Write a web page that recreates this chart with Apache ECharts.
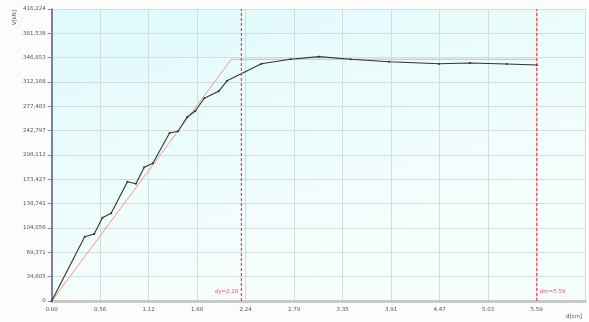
<!DOCTYPE html>
<html><head><meta charset="utf-8">
<script src="https://cdn.jsdelivr.net/npm/echarts@6/dist/echarts.min.js"></script>
<style>html,body{margin:0;padding:0;background:#fff}#c{width:589px;height:322px}</style>
</head><body><div id="c"></div>
<script>
// Capacity curve (black)
const curveX = [0, 0.38, 0.49, 0.584, 0.685, 0.873, 0.970, 1.066, 1.166, 1.358, 1.455, 1.559, 1.654, 1.758, 1.923, 2.020, 2.416, 2.751, 3.078, 3.444, 3.888, 4.463, 4.820, 5.243, 5.59];
const curveV = [0, 91700, 95500, 118750, 125000, 170100, 167200, 190600, 196300, 239500, 241900, 261900, 270900, 289000, 298900, 313900, 338100, 344600, 348300, 344600, 341000, 338100, 339300, 337900, 336400];
// Bilinear idealisation (orange)
const biX = [0, 2.07, 5.59];
const biV = [0, 344600, 344600];
// Marker lines
const markerX = [2.185, 5.59];
const markerText = ['dy=2.18', 'dm=5.59'];
// Tick labels
const xTickLabels = ['0.00','0.56','1.12','1.68','2.24','2.79','3.35','3.91','4.47','5.03','5.59'];
const yTickLabels = ['0','34,685','69,371','104,056','138,741','173,427','208,112','242,797','277,483','312,168','346,853','381,538','416,224'];

const xInt = 0.5588, yInt = 416224/12;
const yMax = yInt*12;
const chart = echarts.init(document.getElementById('c'));
const lab = {color:'#555', fontSize:5.5, fontFamily:'DejaVu Sans'};
const markerSeries = markerX.map(x=>({type:'line', z:6, symbol:'none', silent:true,
  data:[[x,0],[x,yMax]], lineStyle:{color:'#ff1a1a', type:[3,2], width:1}}));
chart.setOption({
  animation:false,
  backgroundColor:'#fcfcfc',
  grid:{left:51.7, top:9, right:3.8, bottom:21, show:true, borderWidth:0,
    backgroundColor:{type:'linear',x:0,y:0,x2:0.15,y2:1,colorStops:[{offset:0,color:'#e0fbfb'},{offset:0.6,color:'#ecfcfc'},{offset:1,color:'#f6fdfd'}]}},
  xAxis:{type:'value', min:0, max:xInt*11, interval:xInt,
    axisLine:{show:true, onZero:false, lineStyle:{color:'#c8c8c8', width:3}},
    axisTick:{show:false},
    splitLine:{show:true, lineStyle:{color:'#d4dcdc', width:1}},
    axisLabel:Object.assign({margin:6, showMaxLabel:false, formatter:v=>{const i=Math.round(v/xInt);return xTickLabels[i]||'';}}, lab)},
  yAxis:{type:'value', min:0, max:yMax, interval:yInt,
    axisLine:{show:true, lineStyle:{color:'#5a5aa8', width:1.5}},
    axisTick:{show:true, length:4, lineStyle:{color:'#888'}},
    splitLine:{show:true, lineStyle:{color:'#d4dcdc', width:1}},
    axisLabel:Object.assign({margin:6, formatter:v=>{const i=Math.round(v/yInt);return yTickLabels[i]||'';}}, lab)},
  graphic:[
    {type:'text', left:12, top:10, rotation:Math.PI/2, style:{text:'V[kN]', fill:'#555', font:'5.5px DejaVu Sans'}},
    {type:'text', left:566, top:314, style:{text:'d[cm]', fill:'#555', font:'5.5px DejaVu Sans'}}
  ],
  series:[
    {type:'line', data:biX.map((x,i)=>[x,biV[i]]), symbol:'none', z:2,
      lineStyle:{color:'#f2ab92', width:1.1}},
    {type:'line', data:curveX.map((x,i)=>[x,curveV[i]]), symbol:'rect', symbolSize:1.8, z:3,
      itemStyle:{color:'#333'}, lineStyle:{color:'#333', width:1.1}},
    ...markerSeries,
    {type:'scatter', symbolSize:0, z:7,
      data:markerX.map((x,i)=>({value:[x,14000], label:{position:i===0?'left':'right', distance:3}})),
      label:{show:true, formatter:p=>markerText[p.dataIndex], color:'#e83030', fontSize:5.5, fontFamily:'DejaVu Sans'}}
  ]
});
</script></body></html>
